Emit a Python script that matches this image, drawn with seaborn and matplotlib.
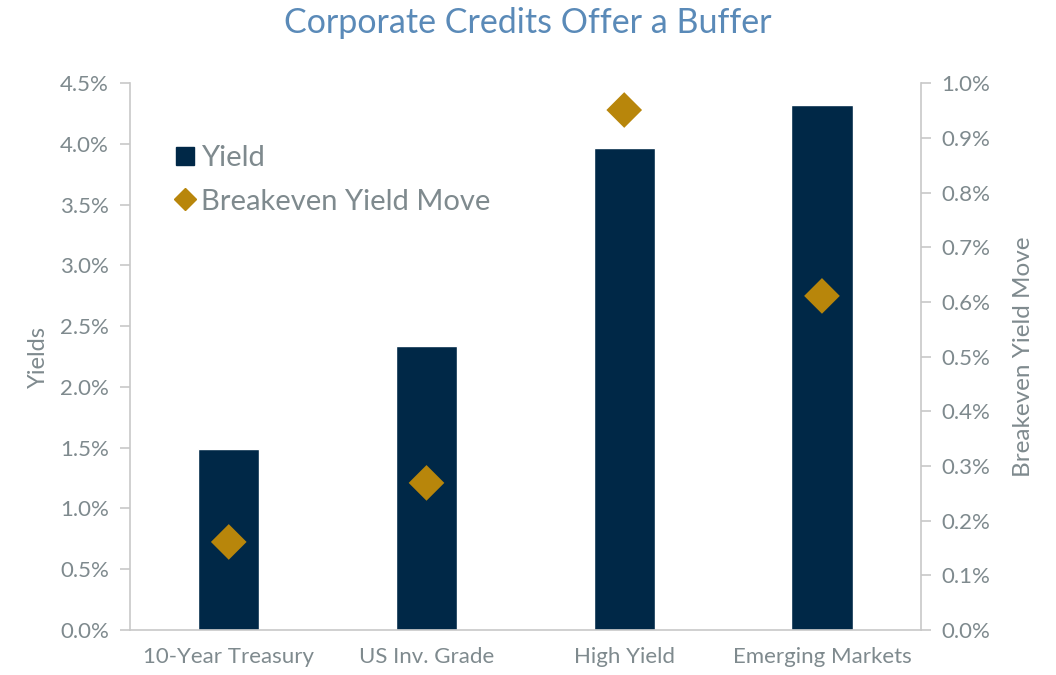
import matplotlib
matplotlib.use("Agg")
import matplotlib.pyplot as plt
import seaborn as sns
import pandas as pd
from matplotlib.lines import Line2D
from matplotlib.ticker import PercentFormatter, FixedLocator

sns.set_style("white")
plt.rcParams['font.family'] = ['Lato', 'DejaVu Sans']

categories = ["10-Year Treasury", "US Inv. Grade", "High Yield", "Emerging Markets"]
yields = [1.49, 2.34, 3.97, 4.32]
breakeven = [0.161, 0.269, 0.951, 0.611]

navy = "#002847"
gold = "#B8860B"
grey = "#7F8A8E"
spine = "#C8C8C8"

df = pd.DataFrame({"cat": categories, "yield": yields, "be": breakeven})

fig = plt.figure(figsize=(10.56, 6.75), dpi=100)
ax = fig.add_axes([0.123, 0.0667, 0.749, 0.810])

sns.barplot(data=df, x="cat", y="yield", color=navy, width=0.31, saturation=1, ax=ax)
ax.set_ylim(0, 4.5)
ax.set_xlim(-0.5, 3.5)
ax.set_yticks([i * 0.5 for i in range(10)])
ax.yaxis.set_major_formatter(PercentFormatter(decimals=1))
ax.set_xlabel("")
ax.set_ylabel("Yields", color=grey, fontsize=17, labelpad=8)

ax2 = ax.twinx()
sns.scatterplot(data=df, x="cat", y="be", marker="D", s=330, color=gold,
                edgecolor="none", ax=ax2, zorder=5, clip_on=False)
ax2.set_ylim(0, 1.0)
ax2.set_xlim(-0.5, 3.5)
ax2.set_yticks([i * 0.1 for i in range(11)])
ax2.yaxis.set_major_formatter(PercentFormatter(decimals=1))
ax2.set_ylabel("Breakeven Yield Move", color=grey, fontsize=17.5, labelpad=16)
ax2.set_xlabel("")

for a in (ax, ax2):
    for s in a.spines.values():
        s.set_visible(False)
    a.tick_params(colors=grey, labelsize=16, length=7, width=1.2)
    a.tick_params(axis="y", color=spine)

ax.spines["left"].set_visible(True)
ax.spines["left"].set_color(spine)
ax.spines["bottom"].set_visible(True)
ax.spines["bottom"].set_color(spine)
ax2.spines["right"].set_visible(True)
ax2.spines["right"].set_color(spine)
for s in ("left", "bottom"):
    ax.spines[s].set_linewidth(1.2)
ax2.spines["right"].set_linewidth(1.2)

ax.tick_params(axis="x", length=0, pad=12)
ax.xaxis.set_minor_locator(FixedLocator([-0.5, 0.5, 1.5, 2.5, 3.5]))
ax.tick_params(axis="x", which="minor", length=8, color=spine, width=1.2)
ax.tick_params(axis="y", pad=8)
ax2.tick_params(axis="y", pad=8)

handles = [
    Line2D([], [], marker="s", linestyle="none", color=navy, markersize=13, label="Yield"),
    Line2D([], [], marker="D", linestyle="none", color=gold, markersize=11, label="Breakeven Yield Move"),
]
leg = ax2.legend(handles=handles, loc="upper left", bbox_to_anchor=(0.018, 0.935),
                 frameon=False, fontsize=21, handletextpad=0.05, handlelength=1.0,
                 labelspacing=0.6, labelcolor=grey)

fig.suptitle("Corporate Credits Offer a Buffer", color="#5A8AB8", fontsize=24.5, y=0.99)

fig.savefig("out.png", dpi=100)
